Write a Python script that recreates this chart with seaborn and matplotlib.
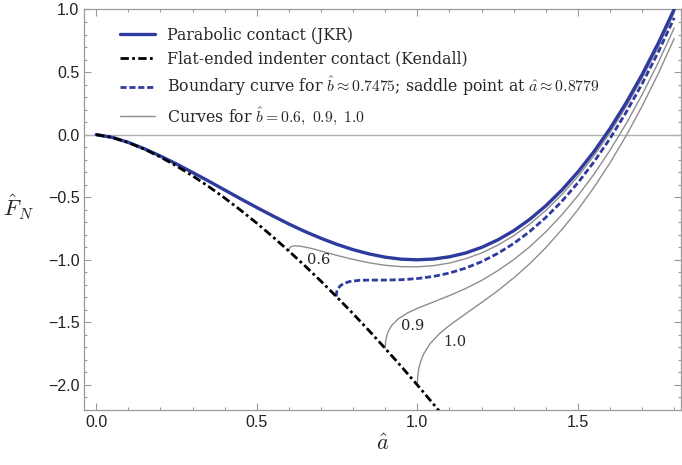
import matplotlib
matplotlib.use("Agg")
import numpy as np
import pandas as pd
import seaborn as sns
import matplotlib.pyplot as plt
from matplotlib.ticker import MultipleLocator

# contact radius a-hat and normal force F-hat
a_jkr = [0.00, 0.05, 0.10, 0.15, 0.20, 0.25, 0.30, 0.35, 0.40, 0.45, 0.50, 0.55,
         0.60, 0.65, 0.70, 0.75, 0.80, 0.85, 0.90, 0.95, 1.00, 1.05, 1.10, 1.15,
         1.20, 1.25, 1.30, 1.35, 1.40, 1.45, 1.50, 1.55, 1.60, 1.65, 1.70, 1.75, 1.80]
f_jkr = [0.000, -0.022, -0.062, -0.113, -0.171, -0.234, -0.302, -0.371, -0.442, -0.513,
         -0.582, -0.649, -0.714, -0.774, -0.828, -0.877, -0.919, -0.953, -0.979, -0.995,
         -1.000, -0.994, -0.976, -0.946, -0.901, -0.842, -0.768, -0.677, -0.569, -0.443,
         -0.299, -0.136, 0.048, 0.253, 0.480, 0.729, 1.002]

a_kendall = [0.00, 0.05, 0.10, 0.15, 0.20, 0.25, 0.30, 0.35, 0.40, 0.45, 0.50, 0.55,
             0.60, 0.65, 0.70, 0.75, 0.80, 0.85, 0.90, 0.95, 1.00, 1.05, 1.07]
f_kendall = [0.000, -0.022, -0.063, -0.116, -0.179, -0.250, -0.329, -0.414, -0.506, -0.604,
             -0.707, -0.816, -0.930, -1.048, -1.171, -1.299, -1.431, -1.567, -1.708, -1.852,
             -2.000, -2.152, -2.214]

a_bound = [0.7475, 0.7485, 0.75, 0.7525, 0.76, 0.77, 0.79, 0.82, 0.85, 0.8779, 0.90,
           0.95, 1.00, 1.05, 1.10, 1.15, 1.20, 1.25, 1.30, 1.35, 1.40, 1.45, 1.50,
           1.55, 1.60, 1.65, 1.70, 1.75, 1.80]
f_bound = [-1.293, -1.263, -1.248, -1.232, -1.208, -1.190, -1.173, -1.164, -1.162, -1.162,
           -1.162, -1.159, -1.150, -1.133, -1.106, -1.067, -1.015, -0.950, -0.870, -0.774,
           -0.662, -0.533, -0.385, -0.218, -0.031, 0.177, 0.406, 0.658, 0.933]

a_b06 = [0.60, 0.6015, 0.605, 0.61, 0.62, 0.64, 0.67, 0.70, 0.75, 0.80, 0.85, 0.90,
         0.95, 1.00, 1.05, 1.10, 1.15, 1.20, 1.25, 1.30, 1.35, 1.40, 1.45, 1.50,
         1.55, 1.60, 1.65, 1.70, 1.75, 1.80]
f_b06 = [-0.930, -0.910, -0.899, -0.892, -0.888, -0.893, -0.909, -0.930, -0.965, -0.997,
         -1.024, -1.044, -1.055, -1.056, -1.047, -1.026, -0.992, -0.946, -0.884, -0.808,
         -0.715, -0.606, -0.479, -0.334, -0.169, 0.016, 0.222, 0.450, 0.700, 0.974]

a_b09 = [0.90, 0.9015, 0.905, 0.91, 0.92, 0.94, 0.97, 1.00, 1.05, 1.10, 1.15, 1.20,
         1.25, 1.30, 1.35, 1.40, 1.45, 1.50, 1.55, 1.60, 1.65, 1.70, 1.75, 1.80]
f_b09 = [-1.708, -1.649, -1.606, -1.570, -1.526, -1.473, -1.424, -1.388, -1.337, -1.286,
         -1.230, -1.165, -1.088, -0.999, -0.896, -0.777, -0.641, -0.488, -0.317, -0.125,
         0.086, 0.319, 0.574, 0.852]

a_b10 = [1.00, 1.0015, 1.005, 1.01, 1.02, 1.04, 1.07, 1.10, 1.15, 1.20, 1.25, 1.30,
         1.35, 1.40, 1.45, 1.50, 1.55, 1.60, 1.65, 1.70, 1.75, 1.80]
f_b10 = [-2.000, -1.922, -1.864, -1.815, -1.751, -1.669, -1.588, -1.524, -1.432, -1.342,
         -1.248, -1.145, -1.031, -0.903, -0.759, -0.600, -0.422, -0.226, -0.010, 0.227,
         0.486, 0.768]

b_labels = ['0.6', '0.9', '1.0']
b_label_pos = [(0.693, -1.0), (0.986, -1.528), (1.116, -1.654)]

BLUE = '#2f3a9e'
GREY = '#8e8e8e'
SERIF = 'DejaVu Serif'

sns.set_style('ticks')
plt.rcParams['font.family'] = ['Liberation Sans', 'DejaVu Sans']
plt.rcParams['mathtext.fontset'] = 'cm'

fig = plt.figure(figsize=(6.82, 4.65), dpi=100)
ax = fig.add_axes([0.1236, 0.1183, 0.8744, 0.8613])

ax.axhline(0, color='#b0b0b0', lw=1.0, zorder=1)

# curves for b = 0.6, 0.9, 1.0
for xs, ys in [(a_b06, f_b06), (a_b09, f_b09), (a_b10, f_b10)]:
    sns.lineplot(x=xs, y=ys, ax=ax, color=GREY, lw=1.0, sort=False, estimator=None,
                 label=None, zorder=2)
grey_lines = list(ax.lines[1:])

sns.lineplot(x=a_jkr, y=f_jkr, ax=ax, color=BLUE, lw=2.4, sort=False, estimator=None,
             label='jkr', zorder=3)
jkr_line = ax.lines[-1]

sns.lineplot(x=a_kendall, y=f_kendall, ax=ax, color='black', lw=2.0, sort=False,
             estimator=None, label='kendall', zorder=5)
kendall_line = ax.lines[-1]
kendall_line.set_dashes((3.0, 1.2, 1.0, 1.2))

sns.lineplot(x=a_bound, y=f_bound, ax=ax, color=BLUE, lw=2.0, sort=False, estimator=None,
             label='boundary', zorder=4)
bound_line = ax.lines[-1]
bound_line.set_dashes((2.2, 1.0))

for txt, (x, y) in zip(b_labels, b_label_pos):
    ax.text(x, y, txt, family=SERIF, fontsize=10.5, ha='center', va='center')

handles = [jkr_line, kendall_line, bound_line, grey_lines[0]]
labels = ['Parabolic contact (JKR)',
          'Flat-ended indenter contact (Kendall)',
          r'Boundary curve for $\hat{b} \approx 0.7475$; saddle point at $\hat{a} \approx 0.8779$',
          r'Curves for $\hat{b} = 0.6,\ 0.9,\ 1.0$']
ax.legend(handles, labels, loc='upper left', bbox_to_anchor=(0.06, 0.957), frameon=False,
          borderpad=0, borderaxespad=0, handlelength=2.2, handletextpad=0.8,
          labelspacing=0.45, prop={'family': SERIF, 'size': 11.3})

ax.set_xlim(-0.037, 1.82)
ax.set_ylim(-2.2, 1.0)
ax.xaxis.set_major_locator(MultipleLocator(0.5))
ax.xaxis.set_minor_locator(MultipleLocator(0.1))
ax.yaxis.set_major_locator(MultipleLocator(0.5))
ax.yaxis.set_minor_locator(MultipleLocator(0.1))
ax.tick_params(which='both', direction='in', top=True, right=True, color='#9a9a9a',
               labelsize=11.5, labelcolor='#222222', width=0.8)
ax.tick_params(which='major', length=5)
ax.tick_params(which='minor', length=2.5)
for s in ax.spines.values():
    s.set_color('#9a9a9a')
    s.set_linewidth(0.9)

ax.set_xlabel(r'$\hat{a}$', fontsize=16)
ax.set_ylabel(r'$\hat{F}_N$', fontsize=16, rotation=0)
ax.xaxis.set_label_coords(0.5, -0.087)
ax.yaxis.set_label_coords(-0.111, 0.505)
ax.xaxis.label.set_va('center')
ax.yaxis.label.set_va('center')
ax.yaxis.label.set_ha('center')

fig.savefig('out.png', dpi=100)
